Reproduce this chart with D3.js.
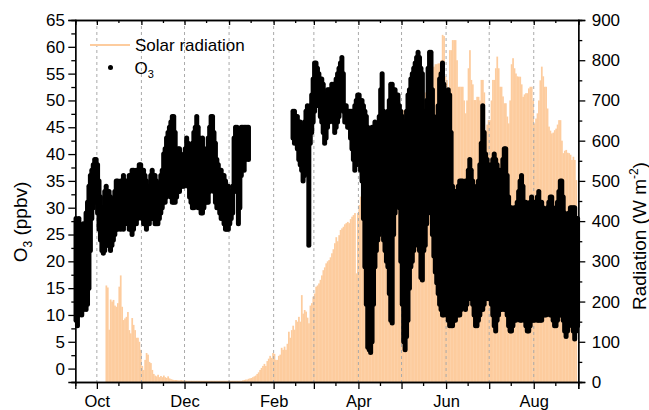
<!DOCTYPE html>
<html>
<head>
<meta charset="utf-8">
<script src="https://cdn.jsdelivr.net/npm/d3@7"></script>
<style>
  body { margin: 0; background: #fff; }
  text { font-family: "Liberation Sans", Arial, sans-serif; fill: #000; }
</style>
</head>
<body>
<svg id="chart" width="649" height="410"></svg>
<script>
// ---- data: one entry per day, starting 16 Sep 2017 ----
const firstDay = new Date(2017, 8, 16);
const lastDay = new Date(2018, 8, 1);

// daily ozone range (ppbv); null = no measurement
const o3Min = [
  9,8,10,12,10,11,12,11,12,15,
  22,28,30,32,31,29,26,24,22,21.5,
  22,23,23,23,22,23,24,25,26,26,
  27,26,27,26,27,28,27,26,26,25,
  26,27,27,28,29,29,28,27,27,26,
  27,27,28,28,28,27,27,27,28,29,
  30,31,31,32,33,33,32,31,31,31,
  32,33,33,34,34,34,35,35,34,32,
  31,30,30,31,31,30,30,29,29,30,
  31,31,31,33,35,35,33,31,30,30,
  29,28,28,27,26,26,26,27,28,29,
  33,35,33,27,30,36,38,37,39,40,
  39,null,null,null,null,null,null,null,null,null,
  null,null,null,null,null,null,null,null,null,null,
  null,null,null,null,null,null,null,null,null,null,
  null,43,42,43,41,39,38,37,35,36,
  37,38,23,42,44,46,48,49,50,49,
  47,46,44,42,43,45,46,47,47,46,
  44,45,46,47,49,50,48,46,46,45,
  45,43,41,39,37,38,39,40,37,35,
  28,19,12,4,3.5,3,5,12,19,22,
  24,25,26,26,24,22,20,19,14,9,
  8.5,25,29,33,37,30,20,12,5,3.5,
  6,9,15,19,20,22,23,25,28,22,
  17,16.5,22,23,27,30,30,29,25,21,
  18,16,14,12,11,10,10,11,10,9,
  8,8,8,9,9,10,10,10,11,12,
  12,11,12,13,14,13,12,10,8,8,
  9,10,11,11,12,13,14,13,13,12,
  10,8,7,9,10,11,11,12,11,11,
  10,8,7,7,8,9,9,10,10,9,
  9,10,9,8,7,7,8,9,9,9,
  10,9,9,9,9,10,10,10,11,11,
  10,10,9,8,8,9,10,10,10,9,
  7,6,7,8,9,9,7,5.5,7,8
];
const o3Max = [
  28,27,28,26,25,27,26,29,31,34,
  36,37,38,39,39,38,35,32,30,30,
  33,34,33,33,32,31,31,33,35,35,
  34,35,34,36,35,35,34,36,36,37,
  37,36,37,36,38,38,37,37,36,35,
  34,34,36,37,36,36,35,33,34,36,
  37,40,41,43,44,45,46,47,47,44,
  40,41,41,40,38,39,41,43,42,41,
  41,42,44,45,47,45,43,42,43,41,
  39,41,43,45,47,47,44,42,39,38,
  37,37,36,36,35,34,34,33,32,34,
  43,45,45,44,42,45,45,45,45,45,
  45,null,null,null,null,null,null,null,null,null,
  null,null,null,null,null,null,null,null,null,null,
  null,null,null,null,null,null,null,null,null,null,
  null,48,48,47,47,46,46,45,44,46,
  48,49,47,49,51,54,57,57,56,55,
  54,54,53,51,51,52,52,52,53,53,
  53,54,55,56,57,58,55,49,49,48,
  48,48,48,48,49,50,51,51,50,50,
  49,48,47,45,44,44,45,45,46,45,
  45,47,52,55,48,45,47,48,50,53,
  53,52,52,51,51,49,48,47,46,46,
  48,51,52,54,55,56,57,58,59,58,
  56,55,48,43,50,56,59,59,52,47,
  46,46,49,54,55,57,53,50,51,52,
  51,44,34,33,33,32,34,35,35,35,
  33,35,35,37,39,37,35,34,33,33,
  35,38,42,49,44,40,39,38,37,38,
  39,40,39,38,37,37,36,39,41,41,
  36,32,30,30,29,30,30,31,33,35,
  36,34,31,31,30,30,31,32,31,31,
  30,32,33,31,31,30,29,29,30,31,
  32,32,30,29,29,31,33,35,35,32,
  29,28,27,29,30,30,30,30,28,28
];

// daily peak solar radiation (W m-2)
const radMax = [
  0,0,0,0,0,0,0,0,0,0,
  0,0,0,0,0,0,0,0,0,0,
  0,240,235,130,205,200,204,190,187,196,
  237,265,187,154,158,162,174,129,121,159,
  142,129,110,110,100,80,40,30,55,72,
  68,50,47,30,20,16,14,18,12,15,
  12,16,12,10,14,9,7,6,5,5,
  5,4,4,5,4,4,4,3,3,3,
  3,3,3,3,3,3,3,3,3,3,
  3,3,3,3,3,3,3,3,3,3,
  3,3,3,3,3,3,3,3,3,3,
  3,3,3,3,3,3,4,5,6,6,
  8,9,10,12,14,16,20,24,30,35,
  40,45,40,52,58,65,60,72,70,55,
  55,65,68,85,80,88,80,95,125,110,
  129,140,130,154,150,162,150,216,170,179,
  175,160,146,190,196,212,220,237,240,245,
  254,265,278,285,295,300,303,310,320,330,
  345,360,350,365,378,382,386,392,395,398,
  395,405,411,415,420,270,420,440,461,480,
  495,505,515,520,527,530,535,540,544,544,
  545,550,544,540,544,544,540,535,530,527,
  560,600,620,640,655,668,665,670,676,676,
  670,672,665,668,668,668,680,668,690,695,
  701,701,700,720,740,760,775,784,780,784,
  790,790,792,792,800,863,860,760,751,700,
  825,825,850,850,850,800,734,734,734,734,
  700,668,700,780,825,751,740,701,701,709,
  709,700,751,751,720,626,640,651,651,700,
  751,751,780,809,780,734,734,710,693,693,
  660,643,700,790,805,780,767,760,759,759,
  740,709,715,718,718,730,734,734,700,643,
  655,668,700,750,784,760,734,734,680,635,
  625,618,620,626,630,640,651,651,600,569,
  575,577,570,569,565,552,560,552,502,0
];

const o3Ticks = [0,5,10,15,20,25,30,35,40,45,50,55,60,65];
const radTicks = [0,100,200,300,400,500,600,700,800,900];
const monthLabels = ["Oct","","Dec","","Feb","","Apr","","Jun","","Aug",""];

// ---- layout ----
const svg = d3.select("#chart");
const plotL = 75.3, plotR = 578.3, plotT = 20, plotB = 382;
const orange = "#FDCC9E";

const x = d3.scaleTime().domain([firstDay, lastDay]).range([plotL, plotR]);
const yO3 = d3.scaleLinear().domain([-2.5, 65]).range([plotB, plotT]);
const yRad = d3.scaleLinear().domain([0, 900]).range([plotB, plotT]);

const dayDate = (i, frac = 0) => new Date(2017, 8, 16 + i, frac * 24);

// month boundaries and mid-month minor ticks
const monthStarts = d3.timeMonth.range(new Date(2017, 9, 1), new Date(2018, 8, 2));
const midMonths = d3.timeMonth.range(new Date(2017, 8, 1), new Date(2018, 8, 1))
  .map(d => new Date(d.getFullYear(), d.getMonth(), 16));

// radiation bars
svg.append("g")
  .selectAll("rect")
  .data(radMax.map((v, i) => ({ i, v })).filter(d => d.v > 0))
  .join("rect")
  .attr("x", d => x(dayDate(d.i)))
  .attr("width", d => x(dayDate(d.i + 1)) - x(dayDate(d.i)) + 0.3)
  .attr("y", d => yRad(d.v))
  .attr("height", d => yRad(0) - yRad(d.v))
  .attr("fill", orange);

// monthly dashed grid
svg.append("g")
  .selectAll("line")
  .data(monthStarts.slice(0, -1))
  .join("line")
  .attr("x1", d => x(d)).attr("x2", d => x(d))
  .attr("y1", plotT).attr("y2", plotB)
  .attr("stroke", "#aaaaaa")
  .attr("stroke-width", 1)
  .attr("stroke-dasharray", "3,3");

// ozone: daily range drawn as a stroke of overlapping samples
svg.append("g")
  .selectAll("line")
  .data(o3Min.map((v, i) => ({ i, lo: v, hi: o3Max[i] })).filter(d => d.lo != null))
  .join("line")
  .attr("x1", d => x(dayDate(d.i, 0.5))).attr("x2", d => x(dayDate(d.i, 0.5)))
  .attr("y1", d => yO3(d.lo)).attr("y2", d => yO3(d.hi))
  .attr("stroke", "#000")
  .attr("stroke-width", 5)
  .attr("stroke-linecap", "round");

// ---- axes ----
const fs = 17;
function styleAxis(g) {
  g.selectAll(".domain").attr("stroke", "#000").attr("stroke-width", 1.3);
  g.selectAll(".tick line").attr("stroke", "#000").attr("stroke-width", 1.3);
  g.selectAll("text").attr("font-size", fs).attr("font-family", "Liberation Sans, Arial, sans-serif");
}

// bottom: major month ticks with labels every other month
svg.append("g")
  .attr("transform", `translate(0,${plotB})`)
  .call(d3.axisBottom(x).tickValues(monthStarts).tickSize(7).tickPadding(6)
    .tickFormat((d, i) => monthLabels[i] || ""))
  .call(styleAxis)
  .call(g => g.selectAll("text").attr("font-size", 16.5));
svg.append("g")
  .attr("transform", `translate(0,${plotB})`)
  .call(d3.axisBottom(x).tickValues(midMonths.filter(d => d > firstDay)).tickSize(4).tickFormat(""))
  .call(styleAxis);

// top: mirrored inward ticks
svg.append("g")
  .attr("transform", `translate(0,${plotT})`)
  .call(d3.axisBottom(x).tickValues(monthStarts).tickSize(5).tickFormat(""))
  .call(styleAxis);
svg.append("g")
  .attr("transform", `translate(0,${plotT})`)
  .call(d3.axisBottom(x).tickValues(midMonths.filter(d => d > firstDay)).tickSize(3).tickFormat(""))
  .call(styleAxis);

// left: ozone
svg.append("g")
  .attr("transform", `translate(${plotL},0)`)
  .call(d3.axisLeft(yO3).tickValues(o3Ticks).tickSize(7).tickPadding(3.3))
  .call(styleAxis);
svg.append("g")
  .attr("transform", `translate(${plotL},0)`)
  .call(d3.axisLeft(yO3).tickValues(o3Ticks.map(v => v - 2.5)).tickSize(4).tickFormat(""))
  .call(styleAxis);

// right: radiation
svg.append("g")
  .attr("transform", `translate(${plotR},0)`)
  .call(d3.axisRight(yRad).tickValues(radTicks).tickSize(7).tickPadding(6.4))
  .call(styleAxis);
svg.append("g")
  .attr("transform", `translate(${plotR},0)`)
  .call(d3.axisRight(yRad).tickValues(radTicks.slice(1).map(v => v - 50)).tickSize(4).tickFormat(""))
  .call(styleAxis);

// axis titles
const tl = svg.append("text")
  .attr("transform", "translate(27,222) rotate(-90)")
  .attr("text-anchor", "middle")
  .attr("font-size", 19);
tl.append("tspan").text("O");
tl.append("tspan").text("3").attr("font-size", 12).attr("dy", 5);
tl.append("tspan").text(" (ppbv)").attr("dy", -5);

const tr = svg.append("text")
  .attr("transform", "translate(646,236) rotate(-90)")
  .attr("text-anchor", "middle")
  .attr("font-size", 19);
tr.append("tspan").text("Radiation (W m");
tr.append("tspan").text("-2").attr("font-size", 12).attr("dy", -8);
tr.append("tspan").text(")").attr("dy", 8);

// ---- legend ----
const lg = svg.append("g");
lg.append("line")
  .attr("x1", 90).attr("x2", 130).attr("y1", 45).attr("y2", 45)
  .attr("stroke", orange).attr("stroke-width", 2);
lg.append("text").attr("x", 135).attr("y", 51).attr("font-size", fs).text("Solar radiation");
lg.append("circle").attr("cx", 110.5).attr("cy", 67.5).attr("r", 2.5).attr("fill", "#000");
const lo3 = lg.append("text").attr("x", 134.5).attr("y", 74).attr("font-size", fs);
lo3.append("tspan").text("O");
lo3.append("tspan").text("3").attr("font-size", 11).attr("dy", 4);
</script>
</body>
</html>
